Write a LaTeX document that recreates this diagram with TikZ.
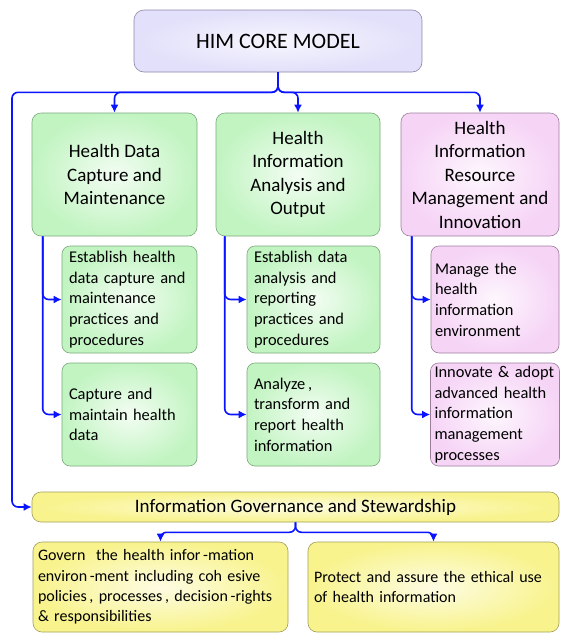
\documentclass[tikz,border=0pt]{standalone}
\usepackage{fontspec}
\setmainfont{Carlito}
\usetikzlibrary{arrows.meta}
\definecolor{linkblue}{RGB}{10,20,255}
\definecolor{corefill}{RGB}{226,224,250}
\definecolor{coreline}{RGB}{140,136,168}
\definecolor{greenfill}{RGB}{194,244,194}
\definecolor{greenline}{RGB}{122,168,122}
\definecolor{pinkfill}{RGB}{246,212,246}
\definecolor{pinkline}{RGB}{156,126,156}
\definecolor{yellowfill}{RGB}{248,243,140}
\definecolor{yellowline}{RGB}{160,158,90}
\begin{document}
\begin{tikzpicture}[x=1pt, y=-1pt, ->, >={Latex[length=8pt,width=8pt]},
	link/.style={draw=linkblue, line width=1.6pt, rounded corners=6pt},
	core/.style={rectangle, rounded corners=10pt, draw=coreline, line width=0.6pt, inner color=corefill!30!white, outer color=corefill, minimum width=288pt, minimum height=62pt, inner sep=0pt, font=\fontsize{22}{26}\selectfont},
	head/.style={rectangle, rounded corners=9pt, draw=greenline, line width=0.6pt, inner color=greenfill!20!white, outer color=greenfill, minimum height=123pt, inner sep=0pt, align=center, font=\fontsize{19}{23.5}\selectfont},
	pinkhead/.style={head, draw=pinkline, inner color=pinkfill!20!white, outer color=pinkfill},
	sub/.style={rectangle, rounded corners=8pt, draw=greenline, line width=0.6pt, inner color=greenfill!20!white, outer color=greenfill, inner xsep=7pt, inner ysep=0pt, align=left, font=\fontsize{16.4}{20.7}\selectfont},
	pinksub/.style={sub, draw=pinkline, inner color=pinkfill!20!white, outer color=pinkfill, inner xsep=4pt},
	gov/.style={rectangle, rounded corners=9pt, draw=yellowline, line width=0.6pt, inner color=yellowfill!25!white, outer color=yellowfill, inner sep=0pt, minimum width=527pt, minimum height=30pt, font=\fontsize{19}{23}\selectfont},
	govsub/.style={rectangle, rounded corners=9pt, draw=yellowline, line width=0.6pt, inner color=yellowfill!25!white, outer color=yellowfill, inner xsep=5pt, inner ysep=0pt, minimum height=90pt, align=left, font=\fontsize{16}{20.3}\selectfont}]
	\useasboundingbox (0,0) rectangle (561,633);
	\node[core] (0) at (278,41) {HIM CORE MODEL};
	\node[head, minimum width=165pt] (1) at (114.5,174.5) {Health Data\\Capture and\\Maintenance};
	\node[head, minimum width=164pt] (2) at (298,174.5) {Health\\Information\\Analysis and\\Output};
	\node[pinkhead, minimum width=158pt] (3) at (480,174.5) {Health\\Information\\Resource\\Management and\\Innovation};
	\node[sub, text width=121pt, minimum height=107pt] (4) at (129.5,299.5) {Establish health\\data capture and\\maintenance\\practices and\\procedures};
	\node[sub, text width=121pt, minimum height=103pt] (5) at (129.5,414.5) {Capture and\\maintain health\\data};
	\node[sub, text width=119pt, minimum height=107pt] (6) at (313.5,299.5) {Establish data\\analysis and\\reporting\\practices and\\procedures};
	\node[sub, text width=119pt, minimum height=103pt] (7) at (313.5,414.5) {Analyze\,,\\transform and\\report health\\information};
	\node[pinksub, text width=120pt, minimum height=107pt] (8) at (495,299.5) {Manage the\\health\\information\\environment};
	\node[pinksub, text width=121pt, minimum height=103pt] (9) at (495,414.5) {Innovate \& adopt\\advanced health\\information\\management\\processes};
	\node[gov] (10) at (295.5,507) {Information Governance and Stewardship};
	\node[govsub, text width=245pt] (11) at (160.5,587) {Govern \ the health infor\,-mation\\environ\,-ment including coh esive\\policies\,, processes\,, decision\,-rights\\\& responsibilities};
	\node[govsub, text width=239pt, inner xsep=6pt] (12) at (433.5,587) {Protect and assure the ethical use\\of health information};
	\draw[link] (0.south) -- ++(0,20) -| (1.north);
	\draw[link] (0.south) -- ++(0,20) -| (2.north);
	\draw[link] (0.south) -- ++(0,20) -| (3.north);
	\draw[link] (0.south) -- ++(0,20) -- ++(-266,0) |- (10.west);
	\draw[link] ([xshift=11pt]1.south west) |- (4.west);
	\draw[link] ([xshift=11pt]1.south west) |- (5.west);
	\draw[link] ([xshift=9pt]2.south west) |- (6.west);
	\draw[link] ([xshift=9pt]2.south west) |- (7.west);
	\draw[link] ([xshift=11pt]3.south west) |- (8.west);
	\draw[link] ([xshift=11pt]3.south west) |- (9.west);
	\draw[link] (10.south) -- ++(0,10) -| (11.north);
	\draw[link] (10.south) -- ++(0,10) -| (12.north);
\end{tikzpicture}
\end{document}
